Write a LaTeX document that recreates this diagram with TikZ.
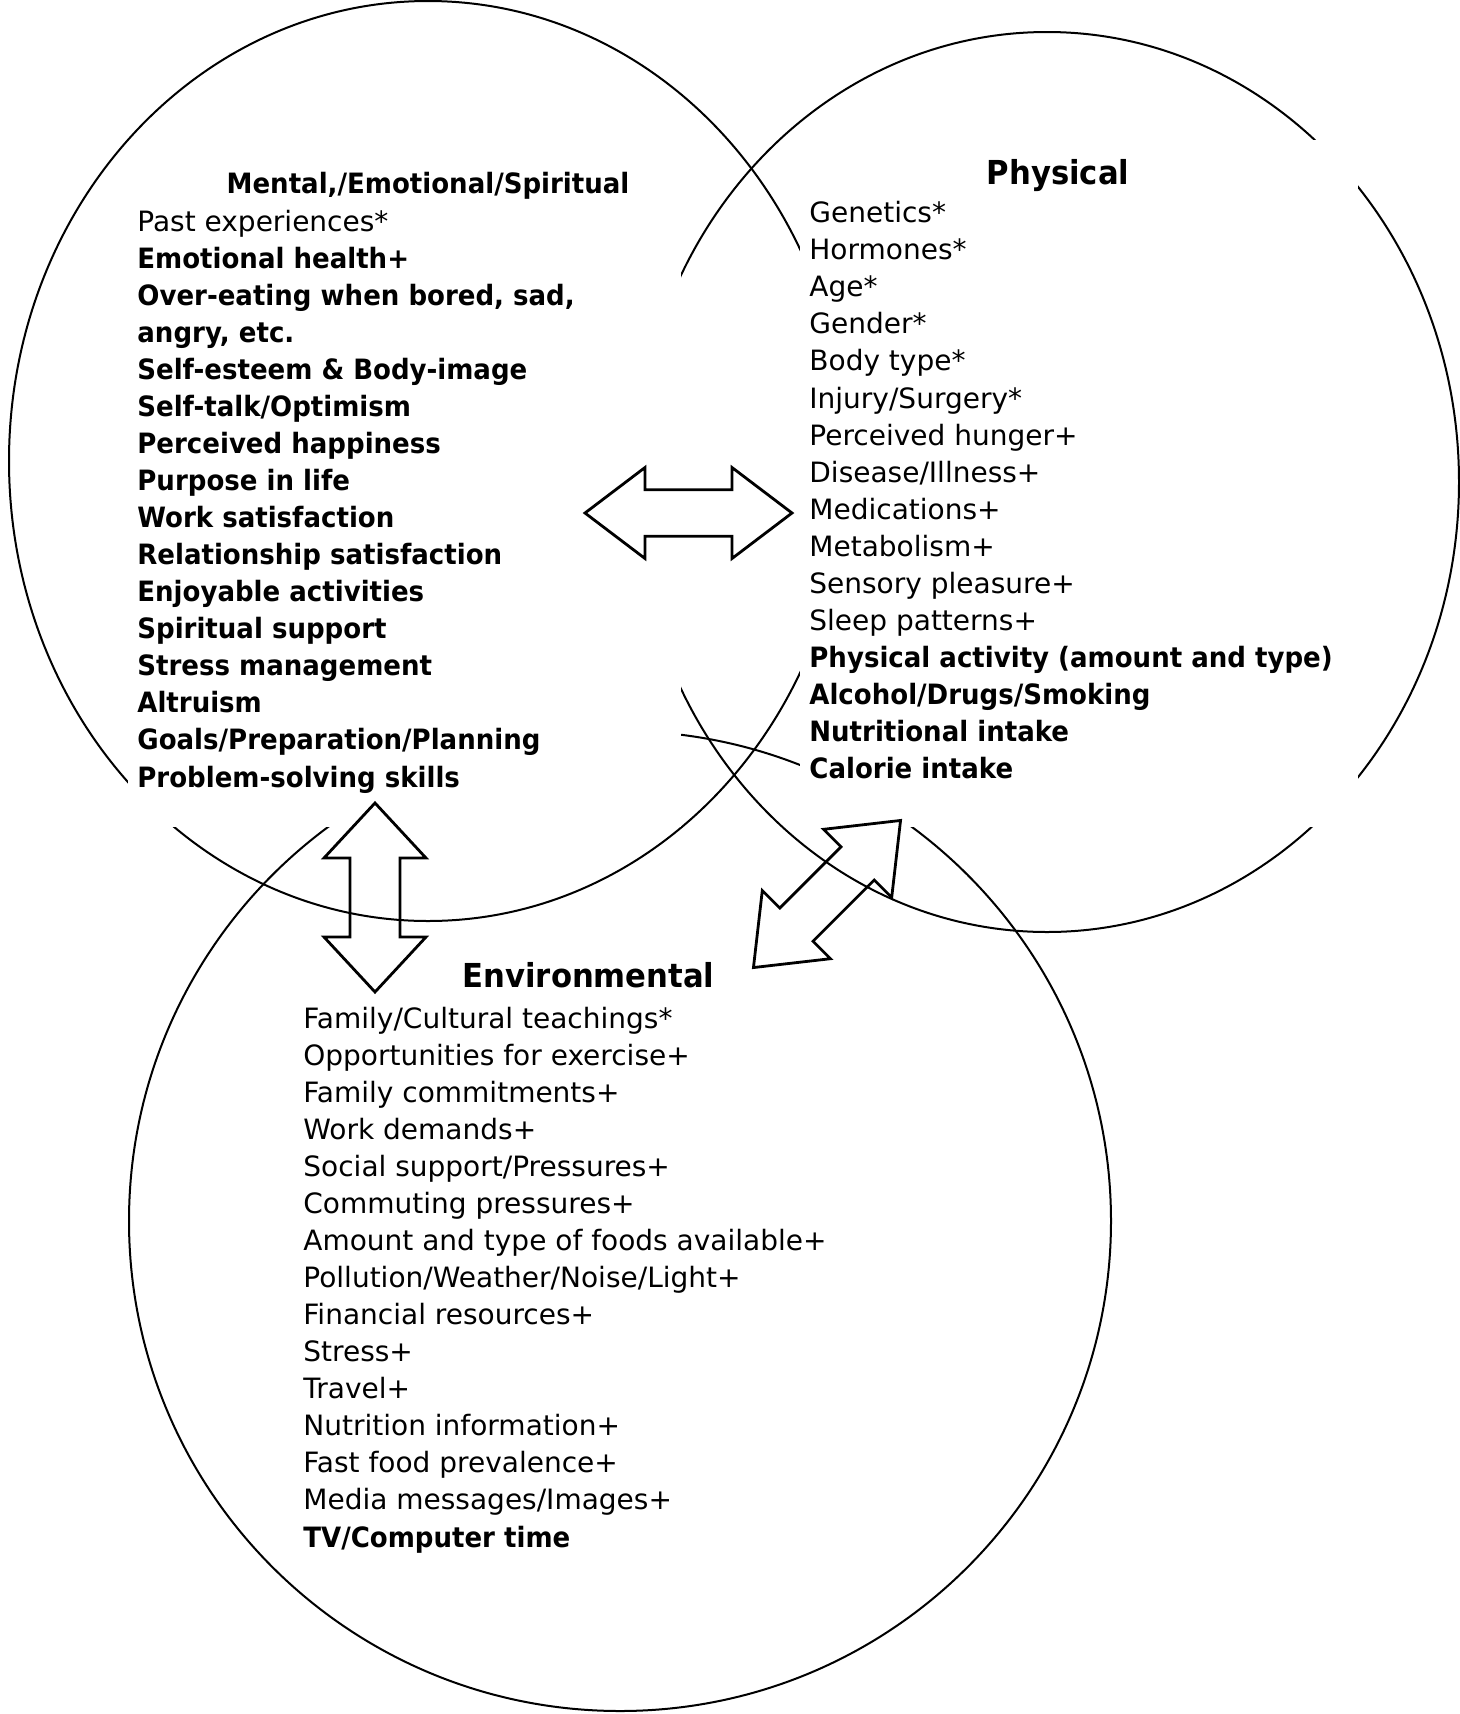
\documentclass[tikz,border=0pt]{standalone}
\usepackage{fontspec}
\setmainfont{DejaVu Sans}[BoldFeatures={FakeStretch=0.93}]
\tikzset{
  ring/.style={draw=black, line width=1pt},
  maskbox/.style={fill=white, draw=none},
  arrowshape/.style={draw=black, line width=1.4pt, line join=miter},
  item/.style={anchor=base west, inner sep=0pt, font=\fontsize{14}{17}\selectfont},
  heading/.style={anchor=base, inner sep=0pt, font=\fontsize{16.5}{19}\selectfont\bfseries},
}
% centre x, centre y, angle, half length, head length, head half-width, shaft half-width
\newcommand\dblArrowDraw[7]{%
  \draw[arrowshape, shift={(#1,#2)}, rotate=#3]
    (-#4,0) -- ({-#4+#5},#6) -- ({-#4+#5},#7) -- ({#4-#5},#7) -- ({#4-#5},#6) -- (#4,0)
    -- ({#4-#5},-#6) -- ({#4-#5},-#7) -- ({-#4+#5},-#7) -- ({-#4+#5},-#6) -- cycle;}
\begin{document}
\begin{tikzpicture}[x=0.5pt, y=-0.5pt]
\useasboundingbox (0,0) rectangle (1460,1714);
% three ovals
\draw[ring] (428,461) ellipse [x radius=209.5pt, y radius=230pt];
\draw[ring] (1047,482) ellipse [x radius=206pt, y radius=225pt];
\draw[ring] (620,1221) ellipse [x radius=245.5pt, y radius=245pt];
% white text-box backgrounds that hide the ovals
\fill[maskbox] (128,150) rectangle (681,827);
\fill[maskbox] (800,140) rectangle (1358,827);
% double arrows
\dblArrowDraw{688.5}{513}{0}{103.5}{60}{45.5}{23.3}
\dblArrowDraw{375}{897.5}{90}{94.5}{55}{51}{25}
\dblArrowDraw{827}{894}{45}{104}{60.7}{48.2}{23.5}
% Mental / Emotional / Spiritual
\node[item, anchor=base, font=\fontsize{14}{17}\selectfont\bfseries] (mt) at (428,193) {Mental,/Emotional/Spiritual};
\foreach \t [count=\i] in {
  Past experiences*,
  {\bfseries Emotional health+},
  {\bfseries Over-eating when bored, sad,},
  {\bfseries angry, etc.},
  {\bfseries Self-esteem \& Body-image},
  {\bfseries Self-talk/Optimism},
  {\bfseries Perceived happiness},
  {\bfseries Purpose in life},
  {\bfseries Work satisfaction},
  {\bfseries Relationship satisfaction},
  {\bfseries Enjoyable activities},
  {\bfseries Spiritual support},
  {\bfseries Stress management},
  {\bfseries Altruism},
  {\bfseries Goals/Preparation/Planning},
  {\bfseries Problem-solving skills}}
  \node[item] (m\i) at (137, {231+37.07*(\i-1)}) {\t};
% Physical
\node[heading] (pt) at (1058,184) {Physical};
\foreach \t [count=\i] in {
  Genetics*, Hormones*, Age*, Gender*, Body type*, Injury/Surgery*,
  Perceived hunger+, Disease/Illness+, Medications+, Metabolism+,
  Sensory pleasure+, Sleep patterns+,
  {\bfseries Physical activity (amount and type)},
  {\bfseries Alcohol/Drugs/Smoking},
  {\bfseries Nutritional intake},
  {\bfseries Calorie intake}}
  \node[item] (p\i) at (809, {222.7+37.07*(\i-1)}) {\t};
% Environmental
\node[heading] (et) at (588.5,987) {Environmental};
\foreach \t [count=\i] in {
  Family/Cultural teachings*, Opportunities for exercise+, Family commitments+,
  Work demands+, Social support/Pressures+, Commuting pressures+,
  Amount and type of foods available+, Pollution/Weather/Noise/Light+,
  Financial resources+, Stress+, Travel+, Nutrition information+,
  Fast food prevalence+, Media messages/Images+,
  {\bfseries TV/Computer time}}
  \node[item] (e\i) at (303, {1028+37.07*(\i-1)}) {\t};
\end{tikzpicture}
\end{document}
